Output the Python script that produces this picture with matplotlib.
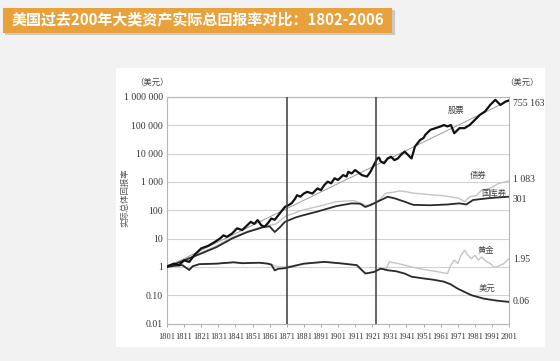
import matplotlib
matplotlib.use("Agg")
import matplotlib.pyplot as plt
import matplotlib.patches as mpatches
import numpy as np

# ---------------- data ----------------
stock_years = [1801, 1802, 1805, 1808, 1811, 1814, 1817, 1821, 1825, 1829, 1832, 1834, 1836, 1839,
               1842, 1845, 1847, 1850, 1852, 1854, 1856, 1858, 1860, 1862, 1864, 1867, 1870, 1872,
               1874, 1876, 1877, 1879, 1881, 1883, 1886, 1889, 1891, 1893, 1895, 1897, 1899, 1901, 1904,
               1906, 1907, 1909, 1911, 1913, 1915, 1918, 1920, 1922, 1924, 1925, 1926, 1928, 1930,
               1932, 1934, 1936, 1938, 1940, 1942, 1944, 1946, 1949, 1951, 1952, 1955, 1958, 1961,
               1963, 1965, 1967, 1969, 1972, 1975, 1978, 1981, 1984, 1987, 1990, 1993, 1996, 1999, 2001]
stock_values = [1.0, 1.1, 1.3, 1.15, 1.7, 1.5, 2.6, 4.5, 5.5, 7.6, 10, 13, 11.5, 15,
                23, 20, 26, 39, 33, 45, 30, 26, 35, 51, 46, 78, 132, 150,
                180, 260, 339, 302, 389, 447, 389, 589, 513, 776, 1023, 891, 1349, 1175, 1738,
                1549, 2291, 1995, 2630, 2138, 1738, 1549, 2291, 3981, 6761, 7244, 5248, 4571, 6761,
                7762, 5888, 6761, 9333, 11749, 8913, 6761, 17783, 30200, 35480, 45709, 69183, 79433, 91201,
                102329, 91201, 102329, 52481, 79433, 79433, 102329, 154882, 234423, 309030, 524807, 794328,
                524807, 691831, 755163]

bond_years = [1801, 1810, 1820, 1830, 1839, 1848, 1858, 1862, 1865, 1870, 1880, 1890, 1900, 1910,
              1916, 1920, 1925, 1929, 1933, 1937, 1941, 1945, 1950, 1956, 1962, 1968, 1972, 1975,
              1978, 1982, 1985, 1990, 1995, 2001]
bond_values = [1.0, 1.7, 3.0, 5.5, 11, 18, 28, 30, 33, 60, 100, 140, 200, 220,
               160, 140, 230, 400, 430, 480, 450, 400, 380, 350, 330, 290, 260, 200,
               300, 330, 510, 600, 890, 1083]

bill_years = [1801, 1810, 1820, 1830, 1839, 1848, 1858, 1861, 1864, 1867, 1870, 1876, 1880, 1889,
              1900, 1909, 1914, 1917, 1922, 1928, 1930, 1934, 1940, 1945, 1955, 1965, 1972, 1976,
              1980, 1985, 1990, 1995, 2001]
bill_values = [1.0, 1.6, 2.8, 5.0, 10, 17, 26, 27, 17, 25, 39, 55, 65, 90,
               140, 175, 170, 130, 175, 260, 300, 265, 200, 155, 150, 160, 175, 160,
               230, 250, 270, 285, 301]

gold_years = [1801, 1806, 1810, 1814, 1816, 1820, 1830, 1840, 1845, 1855, 1860, 1862, 1864, 1866,
              1870, 1880, 1893, 1903, 1912, 1917, 1922, 1926, 1929, 1931, 1936, 1944, 1951, 1959,
              1965, 1967, 1969, 1971, 1973, 1975, 1977, 1979, 1981, 1983, 1985, 1986, 1988, 1990,
              1992, 1994, 1996, 1998, 2001]
gold_values = [1.0, 1.1, 1.15, 0.78, 1.05, 1.25, 1.3, 1.45, 1.35, 1.4, 1.3, 1.25, 1.1, 1.0,
               1.0, 1.25, 1.5, 1.35, 1.15, 0.6, 0.66, 0.87, 0.8, 1.5, 1.32, 1.0, 0.81, 0.68,
               0.58, 1.15, 1.74, 1.32, 2.57, 3.89, 2.57, 1.95, 2.57, 1.74, 2.24, 1.95, 1.51, 1.32,
               1.0, 1.0, 1.15, 1.32, 1.95]

dollar_years = [1801, 1806, 1810, 1814, 1816, 1820, 1830, 1840, 1845, 1855, 1860, 1862, 1864, 1866,
                1870, 1881, 1893, 1903, 1912, 1917, 1922, 1926, 1930, 1935, 1940, 1944, 1951, 1957,
                1963, 1967, 1971, 1975, 1979, 1986, 1994, 2001]
dollar_values = [1.0, 1.1, 1.15, 0.78, 1.05, 1.25, 1.3, 1.45, 1.35, 1.4, 1.3, 1.2, 0.75, 0.85,
                 0.9, 1.3, 1.5, 1.32, 1.15, 0.58, 0.66, 0.87, 0.76, 0.7, 0.58, 0.45, 0.39, 0.35,
                 0.3, 0.24, 0.17, 0.13, 0.1, 0.076, 0.064, 0.058]

trend_years = [1801, 2001]
trend_values = [1.0, 755163]

marker_years = [1871, 1923]

x_ticks = list(range(1801, 2002, 10))
x_tick_labels = [str(y) for y in x_ticks]
y_ticks = [0.01, 0.1, 1, 10, 100, 1000, 10000, 100000, 1000000]
y_tick_labels = ["0.01", "0.10", "1", "10", "100", "1 000", "10 000", "100 000", "1 000 000"]

series_names = ["股票", "债券", "国库券", "黄金", "美元"]
end_labels = ["755 163", "1 083", "301", "1.95", "0.06"]
title = "美国过去200年大类资产实际总回报率对比：1802-2006"
y_label = "实际总体回报率"
unit = "（美元）"

# ---------------- drawing ----------------
W, H = 560, 361
plt.rcParams['font.family'] = ['Liberation Serif', 'Noto Sans CJK SC', 'DejaVu Sans']
fig = plt.figure(figsize=(W / 100, H / 100), dpi=100, facecolor='#f2f2f2')


def fx(px):
    return px / W


def fy(py):
    return 1 - py / H


# white card
fig.patches.append(mpatches.Rectangle((fx(116), fy(347)), fx(545) - fx(116), fy(68) - fy(347),
                                      transform=fig.transFigure, facecolor='white',
                                      edgecolor='none', zorder=-2))
# title bar with shadow
fig.patches.append(mpatches.Rectangle((fx(5), fy(35)), fx(395) - fx(5), fy(10) - fy(35),
                                      transform=fig.transFigure, facecolor='#c9c9c9',
                                      edgecolor='none', zorder=-1))
fig.patches.append(mpatches.Rectangle((fx(3), fy(33)), fx(392) - fx(3), fy(8) - fy(33),
                                      transform=fig.transFigure, facecolor='#E9A23B',
                                      edgecolor='none', zorder=-1))
fig.text(fx(12), fy(20.5), title, color='white', fontsize=10.8, fontweight='bold',
         family=['Noto Sans CJK SC', 'DejaVu Sans'], va='center', ha='left', zorder=3)

ax = fig.add_axes([fx(167), fy(323.5), fx(509) - fx(167), fy(97) - fy(323.5)])
ax.set_zorder(5)
ax.set_facecolor('white')
ax.set_yscale('log')
ax.set_xlim(1801, 2001)
ax.set_ylim(0.01, 1000000)

for yv in y_ticks:
    ax.axhline(yv, color='#d2d2d2', lw=0.8, zorder=1)

ax.plot(trend_years, trend_values, color='#9a9a9a', lw=0.7, zorder=3)
ax.plot(bond_years, bond_values, color='#c4c4c4', lw=1.0, zorder=3)
ax.plot(gold_years, gold_values, color='#c4c4c4', lw=1.0, zorder=3)
ax.plot(bill_years, bill_values, color='#2a2a2a', lw=1.3, zorder=4)
ax.plot(dollar_years, dollar_values, color='#2a2a2a', lw=1.3, zorder=4)
ax.plot(stock_years, stock_values, color='#111111', lw=1.6, zorder=5)

for xv in marker_years:
    ax.axvline(xv, color='#3a3a3a', lw=1.1, zorder=6)

for s in ax.spines.values():
    s.set_color('#b5b5b5')
    s.set_linewidth(0.8)

ax.set_xticks(x_ticks)
ax.set_xticklabels(x_tick_labels)
ax.set_yticks(y_ticks)
ax.set_yticklabels(y_tick_labels)
ax.minorticks_off()
ax.tick_params(axis='x', length=2, width=0.6, color='#999999', pad=5, labelsize=6.0,
               labelcolor='#333333')
ax.tick_params(axis='y', length=0, pad=3, labelsize=7, labelcolor='#333333')

# series labels
lab_pos = [(1970, 340000), (1983, 1700), (1992, 390), (1987.5, 3.8), (1988, 0.17)]
for name, (xx, yy) in zip(series_names, lab_pos):
    ax.text(xx, yy, name, fontsize=6, color='#444444', ha='center', va='center',
            family=['Noto Sans CJK SC', 'DejaVu Sans'], zorder=7)

# end labels
end_pos = [103, 180, 200, 260, 302]
for txt, py in zip(end_labels, end_pos):
    fig.text(fx(513), fy(py), txt, fontsize=7, color='#333333', ha='left', va='center')

fig.text(fx(152), fy(82), unit, fontsize=6, color='#444444', ha='center', va='center',
         family=['Noto Sans CJK SC', 'DejaVu Sans'])
fig.text(fx(522), fy(82), unit, fontsize=6, color='#444444', ha='center', va='center',
         family=['Noto Sans CJK SC', 'DejaVu Sans'])
fig.text(fx(125), fy(198), y_label, fontsize=6, color='#555555', ha='center', va='center',
         rotation=90, family=['Noto Sans CJK SC', 'DejaVu Sans'])

fig.savefig('out.png', dpi=100, facecolor=fig.get_facecolor())
